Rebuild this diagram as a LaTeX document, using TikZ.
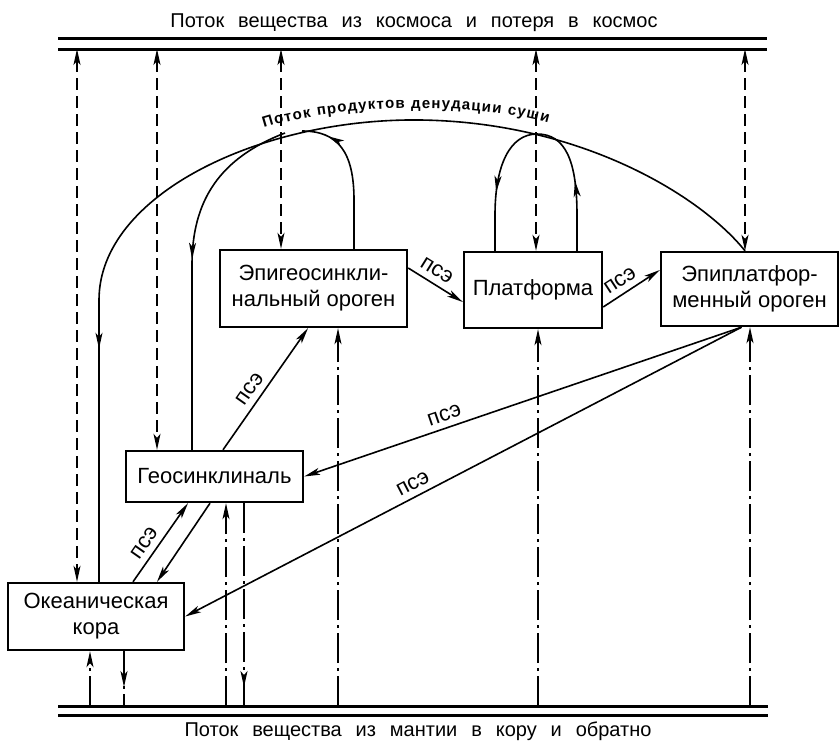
\documentclass[tikz,border=0pt]{standalone}
\usepackage{fontspec}
\setmainfont{Liberation Sans}
\newfontfamily\titlefont[WordSpace=2.5]{Liberation Sans}
\usetikzlibrary{arrows.meta,decorations.markings,decorations.text}

\tikzset{
  box/.style={draw, line width=2.4pt, inner sep=0pt, align=center,
    font=\fontsize{22}{26}\selectfont},
  rail/.style={line width=3pt},
  conn/.style={line width=1.6pt},
  dashline/.style={line width=1.6pt, dash pattern=on 12pt off 6pt},
  dashdot/.style={line width=1.6pt, dash pattern=on 30pt off 5pt on 3pt off 5pt},
  pse/.style={font=\fontsize{22}{22}\selectfont, inner sep=2pt, above=4pt, sloped},
  caption/.style={anchor=base, font=\titlefont\fontsize{20}{24}\selectfont},
  arrowat/.style={postaction={decorate},
    decoration={markings, mark=at position #1 with {\arrow{>}}}},
}

\begin{document}
\begin{tikzpicture}[x=1pt, y=-1pt,
  >={Stealth[length=16pt, width=7pt, inset=4pt]}]
\useasboundingbox (0,0) rectangle (840,744);

% space (top) and mantle (bottom) rails
\coordinate (railTL) at (58,38);  \coordinate (railTR) at (767,38);
\coordinate (railTl) at (58,49);  \coordinate (railTr) at (767,49);
\coordinate (railBL) at (58,706); \coordinate (railBR) at (768,706);
\coordinate (railBl) at (58,715); \coordinate (railBr) at (768,715);
\draw[rail] (railTL) -- (railTR);
\draw[rail] (railTl) -- (railTr);
\draw[rail] (railBL) -- (railBR);
\draw[rail] (railBl) -- (railBr);

\node[caption] (captop) at (414,27.5) {Поток вещества из космоса и потеря в космос};
\node[caption] (capbot) at (418,736) {Поток вещества из мантии в кору и обратно};

% structural units
\node[box, minimum width=187pt, minimum height=77pt] (epi) at (313.5,288.5) {Эпигеосинкли-\\нальный ороген};
\node[box, minimum width=138pt, minimum height=76pt] (pl)  at (533,290) {Платформа};
\node[box, minimum width=177pt, minimum height=74pt] (epl) at (749.5,289) {Эпиплатфор-\\менный ороген};
\node[box, minimum width=177pt, minimum height=51pt] (geo) at (214.5,476.5) {Геосинклиналь};
\node[box, minimum width=176pt, minimum height=67pt] (ok)  at (96,616.5) {Океаническая\\кора};

% exchange with space (dashed)
\coordinate (t1) at (77,49);
\coordinate (t2) at (157,49);
\coordinate (t3) at (281,49);
\coordinate (t4) at (536,49);
\coordinate (t5) at (745,49);
\draw[dashline,<->] (t1) -- (t1 |- ok.north);
\draw[dashline,<->] (t2) -- (t2 |- geo.north);
\draw[dashline,<->] (t3) -- (t3 |- epi.north);
\draw[dashline,<->] (t4) -- (t4 |- pl.north);
\draw[dashline,<->] (t5) -- (t5 |- epl.north);

% exchange with the mantle (dash-dot)
\coordinate (b1) at (90,706);
\coordinate (b2) at (124,706);
\coordinate (b3) at (226,706);
\coordinate (b4) at (244,706);
\coordinate (b5) at (338,706);
\coordinate (b6) at (538,706);
\coordinate (b7) at (750,706);
\draw[dashdot,->] (b1) -- (b1 |- ok.south);
\draw[dashdot,arrowat=-19pt] (b2 |- ok.south) -- (b2);
\draw[dashdot,->] (b3) -- (b3 |- geo.south);
\draw[dashdot,arrowat=-19pt] (b4 |- geo.south) -- (b4);
\draw[dashdot,->] (b5) -- (b5 |- epi.south);
\draw[dashdot,->] (b6) -- (b6 |- pl.south);
\draw[dashdot,->] (b7) -- (b7 |- epl.south);

% denudation flow
\coordinate (forkA) at (285,133);
\coordinate (peakE) at (302,131);
\coordinate (forkP) at (537,134);
\draw[conn, arrowat=-233pt] (t5 |- epl.north)
  .. controls (700,195) and (580,122) .. (420,120)
  .. controls (260,118) and (99,195) .. (99,300)
  -- ([xshift=3pt]ok.north);
\path[decorate, decoration={text along path, text align=fit to path,
  text={|\fontsize{15}{15}\selectfont\bfseries|Поток продуктов денудации суши}}]
  (264,128) .. controls (340,104) and (470,101) .. (548,123);
\draw[conn, arrowat=-191pt] (forkA)
  .. controls (220,158) and (192,200) .. (192,265)
  -- ([xshift=-22.5pt]geo.north);
\draw[conn, arrowat=-27pt] ([xshift=40.5pt]epi.north) -- (354,200)
  .. controls (354,152) and (338,131) .. (peakE);
\draw[conn, postaction={decorate}, decoration={markings,
    mark=at position 70pt with {\arrow{>}},
    mark=at position -59pt with {\arrow{>}}}]
  ([xshift=44pt]pl.north) -- (577,215)
  .. controls (577,160) and (565,134) .. (forkP)
  .. controls (510,134) and (495,165) .. (495,215)
  -- ([xshift=-38pt]pl.north);

% transitions (psE)
\draw[conn,->] ([yshift=20.5pt]epi.east) -- node[pse, pos=0.4] {псэ} ([yshift=-12pt]pl.west);
\draw[conn,->] ([yshift=-17pt]pl.east) -- node[pse, pos=0.42] {псэ} ([yshift=19pt]epl.west);
\draw[conn,->] ([xshift=8.5pt]geo.north) -- node[pse, pos=0.44] {псэ} ([xshift=-5.5pt]epi.south);
\draw[conn,->] ([xshift=-8pt]epl.south) -- node[pse, pos=0.67] {псэ} (geo.east);
\draw[conn,->] ([xshift=-8pt]epl.south) -- node[pse, pos=0.58] {псэ} (ok.east);
\draw[conn,->] ([xshift=37pt]ok.north) -- node[pse, pos=0.4] {псэ} ([xshift=-26.5pt]geo.south);
\draw[conn,->] ([xshift=-4.5pt]geo.south) -- ([xshift=61pt]ok.north);
\end{tikzpicture}
\end{document}
